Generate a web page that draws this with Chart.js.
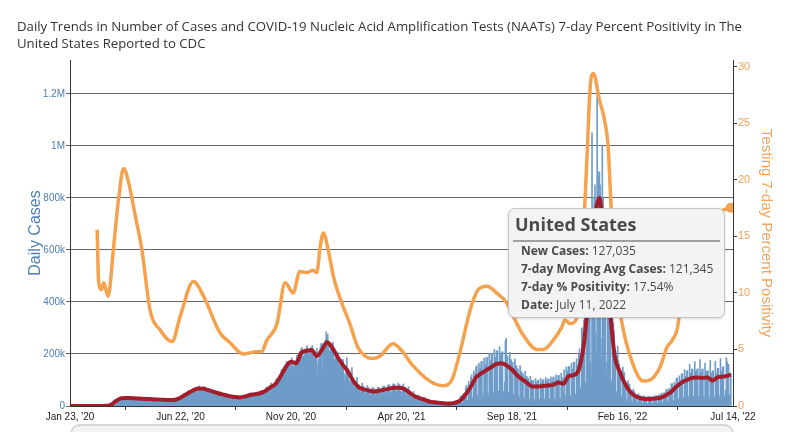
<!DOCTYPE html>
<html>
<head>
<meta charset="utf-8">
<script src="https://cdn.jsdelivr.net/npm/chart.js@4.4.1/dist/chart.umd.min.js"></script>
<style>
  body { margin: 0; background: #fff; }
  #wrap { position: relative; width: 800px; height: 432px; overflow: hidden; background: #fff; }
  #chart { position: absolute; left: 0; top: 0; }
  #title { position: absolute; left: 17px; top: 18px; font: 13px "Open Sans", sans-serif; line-height: 17px; color: #333; white-space: nowrap; transform-origin: 0 0; }
  #tip { position: absolute; left: 508px; top: 208px; width: 217px; height: 110px; box-sizing: border-box; background: #f3f3f3; border: 1px solid #c4c4c4; border-radius: 7px; box-shadow: 0 1px 3px rgba(0,0,0,0.15); font-family: "Open Sans", sans-serif; color: #4a4a4a; }
  #tip .head { font-weight: 700; font-size: 18px; line-height: 24px; margin: 3px 0 0 6px; }
  #tip .sep { height: 2px; background: #a0a0a0; margin: 4px 4px 0 4px; }
  #tip .row { font-size: 12px; line-height: 18px; padding-left: 12px; white-space: nowrap; }
  #tip .row b { font-weight: 700; }
  #slider { position: absolute; left: 70px; top: 424px; width: 664px; height: 30px; box-sizing: border-box; border: 2px solid #d6d6d6; border-radius: 10px; background: #f4f4f4; }
</style>
</head>
<body>
<div id="wrap">
  <canvas id="chart" width="800" height="432"></canvas>
  <div id="title"><span id="titleText">Daily Trends in Number of Cases and COVID-19 Nucleic Acid Amplification Tests (NAATs) 7-day Percent Positivity in The<br>United States Reported to CDC</span></div>
  <div id="tip"></div>
  <div id="slider"></div>
</div>
<script>
// days since Jan 23, 2020 for the x axis ticks
const xTickDays = [0, 150.5, 301, 451.5, 602, 752.5, 903];
const xTickLabels = ["Jan 23, '20", "Jun 22, '20", "Nov 20, '20", "Apr 20, '21", "Sep 18, '21", "Feb 16, '22", "Jul 14, '22"];
const caseTicks = [0, 200, 400, 600, 800, 1000, 1200];
const posTicks = [0, 5, 10, 15, 20, 25, 30];

// new cases per day (thousands), one row per week starting Thursday
const dailyCases = [
  0,0,0,0,0,0,0,
  0,0,0,0,0,0,0,
  0,0,0,0,0,0,0,
  0,0,0,0,0,0,0,
  0,0,0,0,0,0,0,
  0,0,0,0,0,0,0,
  0.1,0.2,0.2,0.3,0.4,0.6,0.8,
  1,1.5,2,2.5,3.5,4.5,5.5,
  6,8,10,11,14,17,20,
  22,25,26,24,25,28,31,
  32,35,31,26,26,29,34,
  32,35,31,26,26,29,34,
  31,34,30,25,25,28,33,
  30,33,29,24,24,27,31,
  29,32,28,23,23,26,30,
  28,30,27,22,22,25,29,
  27,29,26,22,22,24,28,
  26,28,25,21,21,23,27,
  25,27,24,20,20,22,26,
  24,26,23,20,19,22,25,
  25,27,24,21,22,25,30,
  30,33,31,27,29,34,39,
  42,47,44,37,38,44,50,
  54,60,55,47,48,55,62,
  64,70,64,54,54,60,70,
  70,77,67,57,56,63,73,
  68,74,63,53,52,58,68,
  62,67,57,48,47,53,62,
  56,60,51,43,42,47,55,
  50,53,45,38,37,42,49,
  44,47,40,34,33,38,44,
  40,42,36,30,30,34,40,
  36,39,34,29,28,32,37,
  35,38,34,29,29,33,39,
  39,44,40,33,33,38,44,
  45,50,44,37,37,41,48,
  48,53,47,40,40,45,52,
  54,60,54,45,45,51,59,
  64,72,66,56,56,63,73,
  78,88,79,67,67,75,86,
  92,105,98,88,90,98,110,
  125,140,130,118,120,130,142,
  158,172,160,145,148,158,170,
  175,185,170,152,148,158,175,
  115,195,185,160,168,190,210,
  220,225,210,190,190,205,220,
  220,232,215,195,195,210,225,
  222,232,205,185,182,192,205,
  222,120,165,180,205,225,240,
  240,140,225,210,232,255,285,
  262,275,245,210,212,222,238,
  235,245,212,180,168,185,208,
  198,205,178,155,148,162,180,
  170,178,126,96,118,155,185,
  136,142,100,77,94,124,148,
  101,106,75,57,70,92,110,
  80,84,60,46,56,74,88,
  72,75,53,41,50,66,78,
  67,70,49,38,46,61,72,
  66,68,48,37,46,60,71,
  69,72,51,39,48,63,75,
  74,77,54,42,51,67,80,
  78,82,58,44,54,71,85,
  80,84,60,46,56,74,88,
  78,82,58,44,54,71,85,
  68,71,50,38,47,62,74,
  52,54,38,29,36,47,56,
  39,41,29,22,27,36,42,
  31,32,23,18,22,28,34,
  24,25,17,13,16,22,26,
  18,19,13,10,12,16,19,
  15,16,11,8,10,14,16,
  13,13,9,7,9,12,14,
  12,12,8,6,8,10,12,
  13,14,8,5,10,13,17,
  17,20,9,6,20,25,28,
  35,40,12,8,48,45,50,
  70,80,22,16,95,78,80,
  110,120,33,24,135,115,125,
  150,155,42,30,165,140,145,
  170,172,46,33,183,157,157,
  187,187,50,36,202,173,173,
  203,203,55,39,218,187,187,
  212,212,57,41,228,196,196,
  208,208,56,40,90,250,260,
  192,192,52,37,207,178,178,
  168,168,45,32,181,155,155,
  143,143,39,28,154,132,132,
  124,124,33,24,133,114,114,
  106,106,29,20,114,98,98,
  98,98,26,19,105,90,90,
  99,99,27,19,106,91,91,
  101,101,27,20,109,94,94,
  104,104,28,20,112,96,96,
  111,111,30,21,120,103,103,
  117,117,32,23,126,108,108,
  50,140,40,28,150,130,135,
  152,152,41,29,164,140,140,
  169,169,46,33,182,156,156,
  200,220,70,50,300,280,300,
  330,380,90,60,550,480,500,
  560,620,170,110,1050,700,750,
  800,850,280,200,1230,900,880,
  900,850,260,180,1000,800,750,
  650,620,170,120,750,560,520,
  400,370,100,70,450,320,290,
  220,210,55,40,230,175,160,
  140,138,37,27,150,128,128,
  91,91,25,18,98,84,84,
  60,60,16,12,64,55,55,
  44,44,12,9,48,41,41,
  37,37,10,7,40,34,34,
  35,35,9,7,38,32,32,
  36,36,10,7,39,34,34,
  40,40,11,8,43,37,37,
  48,48,13,9,52,44,44,
  63,63,17,12,68,58,58,
  85,85,23,16,91,78,78,
  107,107,29,21,116,99,99,
  124,124,33,24,140,114,114,
  135,135,36,26,160,125,125,
  142,142,38,27,170,131,131,
  142,142,38,27,178,131,131,
  142,142,38,27,165,131,131,
  135,135,36,26,175,125,125,
  135,135,36,26,172,125,125,
  145,145,39,28,182,134,134,
  150,150,40,29,60,186,170,
  160,160,42,30,127
];

// 7-day moving average (thousands), taken each week start; last value is Jul 11 '22
const avgCases = [
  0,0,0,0,0,0,0.2,1,5,20,30,31,30,29,28,27,26,25,24,23,
  23,27,38,50,60,67,66,60,54,48,43,38,35,33,36,42,45,49,58,72,
  85,115,150,170,164,205,212,215,192,215,245,225,190,160,135,100,75,65,60,56,
  58,62,66,70,70,66,52,38,30,24,17,14,12,10,10,13,22,45,75,110,
  125,138,150,162,164,155,140,118,102,88,75,75,77,79,81,90,86,115,119,140,
  240,450,700,800,600,380,190,130,85,55,38,30,27,27,29,32,42,55,75,90,
  100,108,110,108,110,98,110,113,117,121
];

// NAAT 7-day percent positivity
const posDays = [37,39,43,46,52,59,66,73,79,89,98,109,123,139,150,168,182,204,218,236,
  254,261,268,282,293,304,313,322,331,336,341,345,352,359,372,381,392,402,411,422,
  440,449,468,490,508,520,531,545,556,568,581,595,604,617,636,645,658,670,674,681,
  688,692,697,701,704,708,710,713,721,728,733,735,737,742,747,751,763,781,790,804,
  813,820,829,831,838,845,851,858,865,874,885,900];
const posValues = [15.6,11.0,10.3,10.9,9.7,13.8,18.2,21.0,20.0,16.8,13.8,8.5,6.7,5.7,7.9,11.0,9.7,6.5,5.6,4.6,
  4.8,4.8,5.8,7.3,10.9,10.0,11.9,11.8,12.0,11.8,14.2,15.3,13.7,11.4,8.8,7.3,5.2,4.4,4.2,4.4,
  5.5,5.1,3.5,2.2,1.8,2.3,4.7,8.5,10.3,10.6,10.0,9.1,7.9,6.3,5.0,5.0,5.8,7.0,7.6,7.3,
  7.5,8.5,12.0,17.6,21.8,27.7,29.1,29.4,27.1,25.3,22.9,20.3,17.6,13.0,9.5,7.6,4.4,2.2,2.3,3.5,
  5.2,5.8,7.6,9.4,10.5,11.8,13.0,14.5,15.6,16.6,17.2,17.54];

const tipTitle = "United States";
const tipRows = [
  ["New Cases:", "127,035"],
  ["7-day Moving Avg Cases:", "121,345"],
  ["7-day % Positivity:", "17.54%"],
  ["Date:", "July 11, 2022"]
];

const BLUE = "#6f9cc8";
const RED = "#a31d2b";
const ORANGE = "#f5a24f";
const FONT = "'Liberation Sans', Arial, sans-serif";

// title squeezed to the width seen in the reference
const tt = document.getElementById("titleText");
const tw = tt.getBoundingClientRect().width;
document.getElementById("title").style.transform = "scaleX(" + (725 / tw) + ")";

// tooltip box
let tipHtml = '<div class="head">' + tipTitle + '</div><div class="sep"></div>';
tipRows.forEach(r => { tipHtml += '<div class="row"><b>' + r[0] + '</b> ' + r[1] + '</div>'; });
document.getElementById("tip").innerHTML = tipHtml;

const ctx = document.getElementById("chart");
const chart = new Chart(ctx, {
  type: "bar",
  data: {
    datasets: [
      {
        type: "line",
        label: "7-day % Positivity",
        data: posDays.map((d, i) => ({ x: d, y: posValues[i] })),
        yAxisID: "yPos",
        borderColor: ORANGE,
        backgroundColor: ORANGE,
        borderWidth: 3.5,
        pointRadius: c => (c.dataIndex === posDays.length - 1 ? 5 : 0),
        pointBorderWidth: 0,
        cubicInterpolationMode: "monotone",
        order: 1
      },
      {
        type: "line",
        label: "7-day Moving Avg Cases",
        data: avgCases.map((v, i) => ({ x: Math.min(i * 7, 900), y: v })),
        yAxisID: "yCases",
        borderColor: RED,
        borderWidth: 4,
        pointRadius: 0,
        cubicInterpolationMode: "monotone",
        order: 2
      },
      {
        type: "bar",
        label: "New Cases",
        data: dailyCases.map((v, i) => ({ x: i, y: v })),
        yAxisID: "yCases",
        backgroundColor: BLUE,
        barThickness: 1,
        order: 3
      }
    ]
  },
  options: {
    responsive: false,
    animation: false,
    devicePixelRatio: 1,
    layout: { padding: { left: 22, right: 21, top: 60, bottom: 0 } },
    plugins: { legend: { display: false }, tooltip: { enabled: false } },
    scales: {
      x: {
        type: "linear",
        min: 0,
        max: 903,
        offset: false,
        grid: { display: true, drawOnChartArea: false, tickLength: 4, color: "#333" },
        border: { color: "#333" },
        ticks: {
          autoSkip: false,
          maxRotation: 0,
          color: "#222",
          padding: 1,
          font: { family: FONT, size: 10 },
          callback: (v, i) => xTickLabels[i]
        },
        afterBuildTicks: s => { s.ticks = xTickDays.map(v => ({ value: v })); },
        afterFit: s => { s.height = 26; }
      },
      yCases: {
        position: "left",
        min: 0,
        max: 1330,
        grid: { color: "#666", lineWidth: 1, tickLength: 4 },
        border: { color: "#333" },
        ticks: {
          color: "#4a7db3",
          padding: 1,
          font: { family: FONT, size: 10 },
          callback: v => (v === 0 ? "0" : v >= 1000 ? (v / 1000) + "M" : v + "k")
        },
        afterBuildTicks: s => { s.ticks = caseTicks.map(v => ({ value: v })); },
        title: { display: true, text: "Daily Cases", color: "#4f80b5", font: { family: FONT, size: 16 } },
        afterFit: s => { s.width = 48; }
      },
      yPos: {
        position: "right",
        min: 0,
        max: 30.6,
        grid: { drawOnChartArea: false, tickLength: 4, color: "#333" },
        border: { color: "#333" },
        ticks: {
          color: "#f0a35a",
          padding: 1,
          font: { family: FONT, size: 11 }
        },
        afterBuildTicks: s => { s.ticks = posTicks.map(v => ({ value: v })); },
        title: { display: true, text: "Testing 7-day Percent Positivity", color: "#f0a35a", font: { family: FONT, size: 15 } },
        afterFit: s => { s.width = 46; }
      }
    }
  }
});
</script>
</body>
</html>
